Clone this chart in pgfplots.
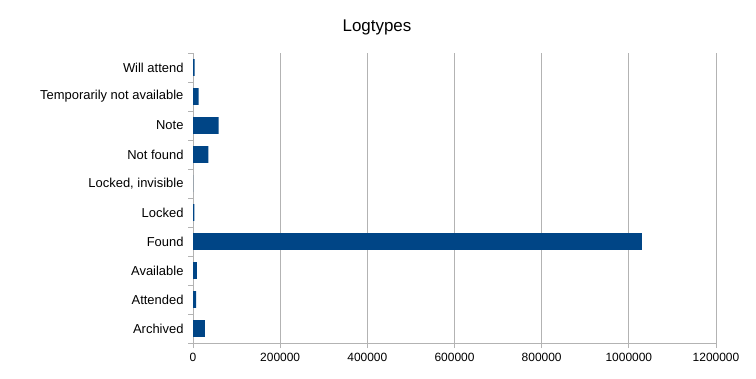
\documentclass[border=0pt]{standalone}
\usepackage{pgfplots}
\pgfplotsset{compat=1.18}
\usepackage{fontspec}
\setmainfont{Liberation Sans}
\definecolor{barblue}{HTML}{004586}
\definecolor{gridgray}{HTML}{B3B3B3}
\begin{document}
\begin{tikzpicture}[x=1bp,y=1bp]
\path[use as bounding box] (0,0) rectangle (756,378);
\node at (377,351) {\fontsize{17}{20}\selectfont Logtypes};
\begin{axis}[
  at={(193bp,35bp)}, anchor=south west,
  scale only axis, width=523bp, height=290bp,
  xbar, bar width=0.57,
  xmin=0, xmax=1200000, ymin=-0.5, ymax=9.5,
  ytick={-0.5,0.5,...,9.5},
  yticklabels={Archived,Attended,Available,Found,Locked,{Locked, invisible},Not found,Note,Temporarily not available,Will attend,{}},
  yticklabel style={font=\fontsize{13}{15}\selectfont, yshift=14.5bp, xshift=-1bp},
  xtick={0,200000,400000,600000,800000,1000000,1200000},
  scaled x ticks=false,
  /pgf/number format/assume math mode=true,
  xticklabel style={/pgf/number format/fixed,/pgf/number format/1000 sep={},font=\fontsize{12}{14}\selectfont, yshift=-2bp},
  xmajorgrids, grid style={gridgray,line width=0.8pt},
  axis x line*=bottom, axis y line*=left,
  axis line style={gridgray,-,line width=0.8pt},
  tick align=outside,
  major tick length=5bp,
  tick style={gridgray,line width=0.8pt},
]
\addplot[fill=barblue, draw=none] coordinates {
(27500,0) (7000,1) (9000,2) (1030000,3) (3000,4) (300,5) (35000,6) (59000,7) (13000,8) (4000,9)};
\end{axis}
\end{tikzpicture}
\end{document}
